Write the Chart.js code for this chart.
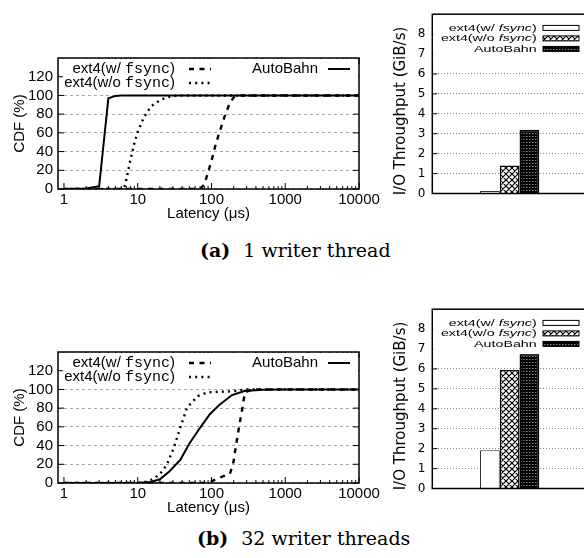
<!DOCTYPE html>
<html>
<head>
<meta charset="utf-8">
<script src="https://cdn.jsdelivr.net/npm/chart.js@4/dist/chart.umd.min.js"></script>
<style>
  html, body { margin: 0; padding: 0; background: #fff; overflow: hidden; width: 584px; height: 558px; }
  canvas { position: absolute; display: block; }
  .cap { position: absolute; font-family: 'DejaVu Serif', serif; font-size: 19px; line-height: 1; color: #000; white-space: nowrap; }
  .cap b { margin-right: 13px; }
</style>
</head>
<body>
<canvas id="cdfA" width="390" height="230" style="left:0;top:0"></canvas>
<canvas id="barA" width="220" height="215" style="left:380px;top:0"></canvas>
<div class="cap" style="left:200px;top:241px"><b>(a)</b>1 writer thread</div>

<canvas id="cdfB" width="390" height="230" style="left:0;top:294px"></canvas>
<canvas id="barB" width="220" height="215" style="left:380px;top:295px"></canvas>
<div class="cap" style="left:197px;top:529px"><b>(b)</b>32 writer threads</div>

<script>
// ---- axis ticks ----
const latencyTicks = [1, 10, 100, 1000, 10000];
const cdfTicks = [0, 20, 40, 60, 80, 100, 120];
const gibTicks = [0, 1, 2, 3, 4, 5, 6, 7, 8];

// ---- latency CDF, 1 writer thread ----
const latA_sync   = [1, 70, 80, 90, 100, 110, 125, 150, 175, 200, 250, 10000];
const cdfA_sync   = [0, 0, 5, 18, 30, 43, 58, 77, 91, 98, 100, 100];
const latA_nosync = [1, 6.5, 7, 8, 9, 10, 12, 15, 20, 25, 30, 40, 10000];
const cdfA_nosync = [0, 0, 10, 32, 49, 61, 76, 88, 95, 98, 99.5, 100, 100];
const latA_auto   = [1, 2, 3, 4, 5, 6, 10000];
const cdfA_auto   = [0, 0.5, 3, 97, 99.5, 100, 100];

// ---- latency CDF, 32 writer threads ----
const latB_sync   = [1, 90, 120, 178, 198, 218, 242, 268, 283, 349, 10000];
const cdfB_sync   = [0, 0, 4.7, 10, 22, 43, 64.6, 84, 96.7, 100, 100];
const latB_nosync = [1, 10, 13, 16, 20, 25, 31, 38, 46, 52, 66, 90, 190, 300, 10000];
const cdfB_nosync = [0, 0, 1.5, 4, 9.5, 20, 38, 60, 79, 85, 93, 97, 98, 100, 100];
const latB_auto   = [1, 10, 15, 20, 27, 38, 50, 70, 95, 130, 190, 280, 500, 1000, 10000];
const cdfB_auto   = [0, 0, 1, 4, 12.5, 25, 42, 59, 73.5, 84, 94, 98.3, 99.7, 100, 100];

// ---- I/O throughput (GiB/s) ----
const seriesNames = ['ext4(w/ fsync)', 'ext4(w/o fsync)', 'AutoBahn'];
const throughputA = [0.13, 1.4, 3.2];
const throughputB = [1.92, 5.95, 6.76];

const SANS = "'Liberation Sans', Arial, sans-serif";
const MONO = "'Liberation Mono', 'Courier New', monospace";
Chart.defaults.color = '#000';
Chart.defaults.font.family = SANS;
Chart.defaults.animation = false;

const DASH_SYNC = [5, 5.5];
const DASH_NOSYNC = [2, 4.2];

function lineSet(lat, cdf, dash, width) {
  return {
    data: lat.map((x, i) => ({ x: x, y: cdf[i] })),
    borderColor: '#000', borderWidth: width, borderDash: dash,
    pointRadius: 0, tension: 0, fill: false
  };
}

// inward tick marks + plot frame
const cdfFrame = {
  id: 'cdfFrame',
  afterDatasetsDraw(chart) {
    const { ctx, chartArea: a, scales: { x, y } } = chart;
    ctx.save();
    ctx.strokeStyle = '#000';
    ctx.lineWidth = 1;
    ctx.beginPath();
    for (const v of cdfTicks) {
      const py = y.getPixelForValue(v);
      ctx.moveTo(a.left, py); ctx.lineTo(a.left + 6, py);
      ctx.moveTo(a.right, py); ctx.lineTo(a.right - 6, py);
    }
    for (let d = 1; d <= 10000; d *= 10) {
      for (let m = 1; m < 10; m++) {
        const v = d * m;
        if (v > 10000) break;
        const px = x.getPixelForValue(v);
        const len = m === 1 ? 6 : 3;
        ctx.moveTo(px, a.bottom); ctx.lineTo(px, a.bottom - len);
        ctx.moveTo(px, a.top); ctx.lineTo(px, a.top + len);
      }
    }
    ctx.stroke();
    ctx.lineWidth = 1.5;
    ctx.strokeRect(a.left, a.top, a.right - a.left, a.bottom - a.top);
    ctx.restore();
  }
};

function textRight(ctx, xr, y, parts) {
  let x = xr;
  ctx.textAlign = 'left';
  for (let i = parts.length - 1; i >= 0; i--) {
    ctx.font = parts[i][1];
    x -= ctx.measureText(parts[i][0]).width;
    ctx.fillText(parts[i][0], x, y);
  }
}

function sampleLine(ctx, x0, x1, y, dash, width) {
  ctx.beginPath();
  ctx.setLineDash(dash);
  ctx.lineWidth = width;
  ctx.moveTo(x0, y); ctx.lineTo(x1, y);
  ctx.stroke();
}

const cdfKey = {
  id: 'cdfKey',
  afterDraw(chart) {
    const { ctx, chartArea: a } = chart;
    ctx.save();
    ctx.fillStyle = '#fff';
    ctx.fillRect(a.left + 5, a.top + 1, a.right - a.left - 6, 32);
    ctx.fillStyle = '#000';
    ctx.strokeStyle = '#000';
    ctx.textBaseline = 'middle';
    const f = "15px " + SANS, fm = "15px " + MONO;
    const r1 = a.top + 11, r2 = a.top + 25;
    textRight(ctx, a.left + 117, r1, [['ext4(w/ ', f], ['fsync', fm], [')', f]]);
    textRight(ctx, a.left + 117, r2, [['ext4(w/o ', f], ['fsync', fm], [')', f]]);
    textRight(ctx, a.left + 260, r1, [['AutoBahn', f]]);
    sampleLine(ctx, a.left + 131, a.left + 153, r1, DASH_SYNC, 2.4);
    sampleLine(ctx, a.left + 131, a.left + 153, r2, DASH_NOSYNC, 2.4);
    sampleLine(ctx, a.left + 270, a.left + 292, r1, [], 2);
    ctx.restore();
  }
};

function cdfChart(id, sets) {
  return new Chart(document.getElementById(id), {
    type: 'line',
    data: { datasets: sets },
    options: {
      responsive: false,
      animation: false,
      layout: { padding: { left: 0, top: 58, right: 31, bottom: 7 } },
      plugins: { legend: { display: false }, tooltip: { enabled: false } },
      scales: {
        x: {
          type: 'logarithmic', min: 0.83, max: 10000,
          afterBuildTicks(s) { s.ticks = latencyTicks.map(v => ({ value: v })); },
          afterFit(s) { s.height = 34; },
          ticks: { font: { size: 15 }, padding: 2, maxRotation: 0, autoSkip: false, callback: v => String(v) },
          grid: { display: false, drawTicks: false },
          border: { display: false },
          title: { display: true, text: 'Latency (μs)', font: { size: 15 }, padding: { top: 0, bottom: 0 } }
        },
        y: {
          min: 0, max: 140,
          afterBuildTicks(s) { s.ticks = cdfTicks.map(v => ({ value: v })); },
          afterFit(s) { s.width = 58; },
          ticks: { font: { size: 15 }, padding: 5, callback: v => String(v) },
          grid: { color: '#a8a8a8', lineWidth: 1, drawTicks: false },
          border: { display: false, dash: [3, 3] },
          title: { display: true, text: 'CDF (%)', font: { size: 15 }, padding: { top: 11, bottom: 0 } }
        }
      }
    },
    plugins: [cdfFrame, cdfKey]
  });
}

cdfChart('cdfA', [
  lineSet(latA_sync, cdfA_sync, DASH_SYNC, 2.4),
  lineSet(latA_nosync, cdfA_nosync, DASH_NOSYNC, 2.4),
  lineSet(latA_auto, cdfA_auto, [], 2)
]);
cdfChart('cdfB', [
  lineSet(latB_sync, cdfB_sync, DASH_SYNC, 2.4),
  lineSet(latB_nosync, cdfB_nosync, DASH_NOSYNC, 2.4),
  lineSet(latB_auto, cdfB_auto, [], 2)
]);

// ---- bar fill patterns ----
function hatchTile(size, lw) {
  const c = document.createElement('canvas');
  c.width = c.height = size;
  const g = c.getContext('2d');
  g.fillStyle = '#fff';
  g.fillRect(0, 0, size, size);
  g.strokeStyle = '#000';
  g.lineWidth = lw;
  g.beginPath();
  for (let k = -1; k <= 1; k++) {
    g.moveTo(k * size - 1, -1); g.lineTo(k * size + size + 1, size + 1);
    g.moveTo(k * size - 1, size + 1); g.lineTo(k * size + size + 1, -1);
  }
  g.stroke();
  return c;
}

const barFrame = {
  id: 'barFrame',
  afterDatasetsDraw(chart) {
    const { ctx, chartArea: a, scales: { y } } = chart;
    ctx.save();
    ctx.strokeStyle = '#000';
    ctx.lineWidth = 1;
    ctx.beginPath();
    for (const v of gibTicks) {
      const py = y.getPixelForValue(v);
      ctx.moveTo(a.left, py); ctx.lineTo(a.left + 5, py);
    }
    ctx.stroke();
    ctx.lineWidth = 1.5;
    ctx.strokeRect(a.left, a.top, a.right - a.left, a.bottom - a.top);
    ctx.restore();
  }
};

const barKey = {
  id: 'barKey',
  afterDraw(chart) {
    const { ctx, chartArea: a } = chart;
    const sets = chart.data.datasets;
    ctx.save();
    ctx.fillStyle = '#fff';
    ctx.fillRect(a.left + 1, a.top + 1, a.right - a.left - 2, 44);
    ctx.textBaseline = 'middle';
    const f = "9.5px " + SANS, fi = "italic 9.5px " + SANS;
    const labels = [
      [['ext4(w/ ', f], ['fsync', fi], [')', f]],
      [['ext4(w/o ', f], ['fsync', fi], [')', f]],
      [['AutoBahn', f]]
    ];
    for (let i = 0; i < 3; i++) {
      const ry = a.top + 13.7 + i * 10.5;
      ctx.save();
      ctx.translate(a.left + 104.4, ry);
      ctx.scale(1.5, 1);
      ctx.fillStyle = '#000';
      textRight(ctx, 0, 0, labels[i]);
      ctx.restore();
      const x0 = a.left + 110.7, w = 36, h = 5;
      ctx.fillStyle = sets[i].backgroundColor;
      ctx.fillRect(x0, ry - h / 2, w, h);
      ctx.strokeStyle = '#000';
      ctx.lineWidth = 1;
      ctx.strokeRect(x0, ry - h / 2, w, h);
    }
    ctx.restore();
  }
};

function barChart(id, values) {
  const el = document.getElementById(id);
  const g = el.getContext('2d');
  const hatch = g.createPattern(hatchTile(6, 1.2), 'repeat');
  const dense = g.createPattern(hatchTile(3, 1.4), 'repeat');
  const fills = ['#fff', hatch, dense];
  const edges = ['#333', '#000', '#000'];
  const widths = [1, 1.5, 1.5];
  return new Chart(el, {
    type: 'bar',
    data: {
      labels: [''],
      datasets: seriesNames.map((name, i) => ({
        label: name, data: [values[i]],
        backgroundColor: fills[i], borderColor: edges[i], borderWidth: widths[i],
        categoryPercentage: 0.3833, barPercentage: 1, borderSkipped: 'start'
      }))
    },
    options: {
      responsive: false,
      animation: false,
      layout: { padding: { left: 0, top: 9, right: 13, bottom: 21.5 } },
      plugins: { legend: { display: false }, tooltip: { enabled: false } },
      scales: {
        x: { display: false },
        y: {
          min: 0, max: 9,
          afterBuildTicks(s) { s.ticks = gibTicks.map(v => ({ value: v })); },
          afterFit(s) { s.width = 52.3; },
          ticks: { font: { family: "'DejaVu Sans', sans-serif", size: 12 }, padding: 7, callback: v => String(v) },
          grid: { color: '#888', lineWidth: 1, drawTicks: false },
          border: { display: false, dash: [1, 2] },
          title: {
            display: true, text: 'I/O Throughput (GiB/s)   ',
            font: { family: "'DejaVu Sans', sans-serif", size: 15 },
            padding: { top: 11.7, bottom: 0 }
          }
        }
      }
    },
    plugins: [barFrame, barKey]
  });
}

barChart('barA', throughputA);
barChart('barB', throughputB);
</script>
</body>
</html>
